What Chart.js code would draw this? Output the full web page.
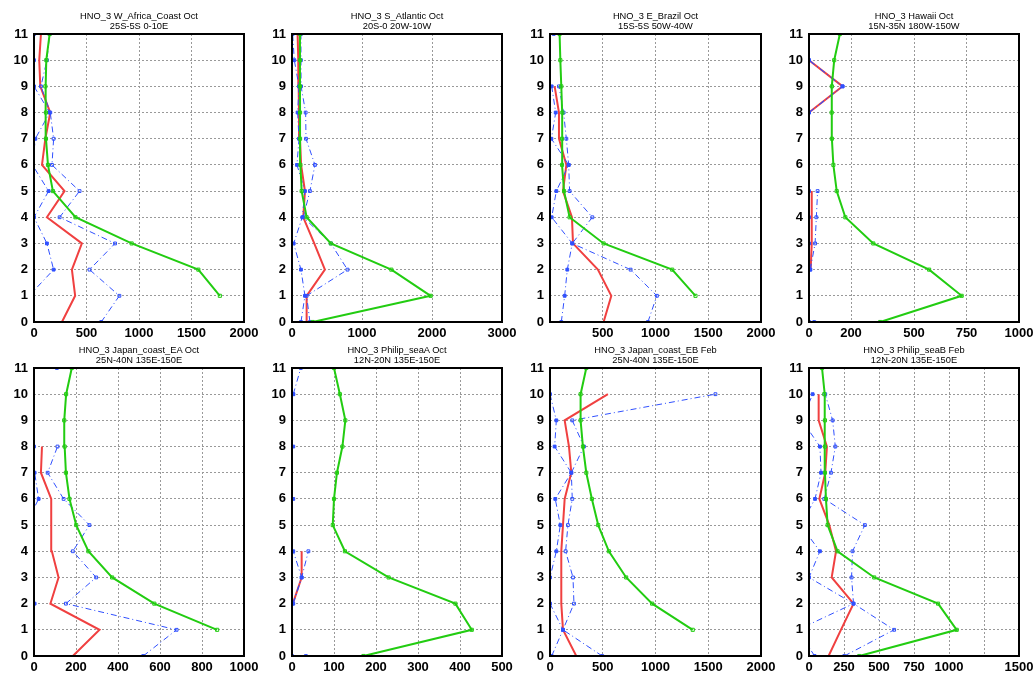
<!DOCTYPE html>
<html>
<head>
<meta charset="utf-8">
<script src="https://cdn.jsdelivr.net/npm/chart.js@4"></script>
<style>
  body { margin: 0; background: #fff; }
  #wrap { position: relative; width: 1034px; height: 674px; overflow: hidden; }
  canvas { position: absolute; }
  .ttl { position: absolute; width: 260px; font: 9.3px "Liberation Sans", Arial, sans-serif; line-height: 10px; text-align: center; color: #000; }
</style>
</head>
<body>
<div id="wrap"></div>
<script>
// vertical axis: levels 0..11
var levels = [0, 1, 2, 3, 4, 5, 6, 7, 8, 9, 10, 11];

var titles = ['HNO_3 W_Africa_Coast Oct', 'HNO_3 S_Atlantic Oct', 'HNO_3 E_Brazil Oct', 'HNO_3 Hawaii Oct',
              'HNO_3 Japan_coast_EA Oct', 'HNO_3 Philip_seaA Oct', 'HNO_3 Japan_coast_EB Feb', 'HNO_3 Philip_seaB Feb'];
var regions = ['25S-5S 0-10E', '20S-0 20W-10W', '15S-5S 50W-40W', '15N-35N 180W-150W',
               '25N-40N 135E-150E', '12N-20N 135E-150E', '25N-40N 135E-150E', '12N-20N 135E-150E'];

var xMax = [2000, 3000, 2000, 1000, 1000, 500, 2000, 1500];
var xTicks = [
  [0, 500, 1000, 1500, 2000],
  [0, 1000, 2000, 3000],
  [0, 500, 1000, 1500, 2000],
  [0, 200, 500, 750, 1000],
  [0, 200, 400, 600, 800, 1000],
  [0, 100, 200, 300, 400, 500],
  [0, 500, 1000, 1500, 2000],
  [0, 250, 500, 750, 1000, 1250, 1500]
];
var xLabels = [
  ['0', '500', '1000', '1500', '2000'],
  ['0', '1000', '2000', '3000'],
  ['', '500', '1000', '1500', '2000'],
  ['0', '200', '500', '750', '1000'],
  ['0', '200', '400', '600', '800', '1000'],
  ['0', '100', '200', '300', '400', '500'],
  ['0', '500', '1000', '1500', '2000'],
  ['0', '250', '500', '750', '1000', '', '1500']
];

// values per level 0..11 (null = no data)
var wafGreen = [null, 1770, 1565, 930, 395, 180, 133, 114, 114, 108, 117, 149];
var wafRed   = [266, 392, 361, 456, 123, 291, 76, 108, 155, 60, 50, 66];
var wafHi    = [640, 813, 529, 772, 244, 434, 171, 187, 155, 66, 123, 149];
var wafLo    = [-100, -47, 187, 123, 0, 139, -15, 13, 149, 0, 0, 0];

var satGreen = [295, 1980, 1419, 555, 209, 138, 120, 115, 115, 114, 114, 114];
var satRed   = [209, 209, 470, 318, 161, 185, 130, 114, 100, 95, 90, 80];
var satHi    = [256, 209, 793, 555, 161, 256, 328, 200, 195, 130, 128, 128];
var satLo    = [128, 185, 128, 24, 147, 185, 71, 100, 80, 100, 33, 9];

var ebrGreen = [null, 1379, 1158, 508, 186, 133, 114, 114, 117, 107, 98, 91];
var ebrRed   = [508, 581, 454, 218, 208, 123, 155, 85, 85, 44, null, null];
var ebrHi    = [928, 1013, 764, 211, 401, 186, 177, 155, 129, 85, null, 35];
var ebrLo    = [107, 139, 164, 211, 16, 60, 177, 13, 54, 16, null, null];

var hawGreen = [339, 727, 572, 306, 173, 132, 116, 109, 108, 109, 120, 147];
var hawRed   = [null, null, 8, 13, 13, 13, null, null, 0, 160, 0, null];
var hawHi    = [25, null, 6, 29, 35, 41, null, null, 0, 160, 0, null];
var hawLo    = [0, null, 6, 0, 0, 0, null, null, 0, 160, 0, null];

var jeaGreen = [null, 872, 573, 372, 259, 201, 169, 152, 146, 144, 153, 180];
var jeaRed   = [185, 312, 78, 117, 85, 82, 82, 33, 38, null, null, null];
var jeaHi    = [520, 679, 152, 296, 185, 264, 141, 65, 112, null, null, 109];
var jeaLo    = [-150, -120, 3, -60, -80, -40, 22, 3, 0, null, null, null];

var psaGreen = [170, 428, 389, 230, 126, 97, 100, 107, 120, 127, 114, 100];
var psaRed   = [null, null, 2, 23, 23, null, null, null, null, null, null, null];
var psaHi    = [33, null, 3, 23, 39, null, null, null, null, null, 3, 21];
var psaLo    = [0, null, 2, 23, 3, null, 3, null, 3, null, 3, null];

var jebGreen = [null, 1353, 968, 722, 558, 457, 397, 344, 312, 290, 290, 344];
var jebRed   = [249, 123, 107, 107, 107, 123, 139, 202, 180, 139, 549, null];
var jebHi    = [495, 123, 227, 218, 148, 170, 211, 202, 322, 211, 1568, null];
var jebLo    = [16, 123, 0, 0, 60, 98, 50, 202, 44, 60, 0, null];

var psbGreen = [359, 1055, 922, 466, 204, 133, 121, 114, 114, 114, 109, 93];
var psbRed   = [140, 228, 318, 162, 193, 145, 74, 116, 128, 69, 69, null];
var psbHi    = [252, 608, 318, 304, 311, 399, 109, 157, 188, 169, 116, null];
var psbLo    = [40, -80, 318, 0, 78, -60, 43, 86, 78, -50, 26, null];

var panelData = [
  [wafGreen, wafRed, wafHi, wafLo],
  [satGreen, satRed, satHi, satLo],
  [ebrGreen, ebrRed, ebrHi, ebrLo],
  [hawGreen, hawRed, hawHi, hawLo],
  [jeaGreen, jeaRed, jeaHi, jeaLo],
  [psaGreen, psaRed, psaHi, psaLo],
  [jebGreen, jebRed, jebHi, jebLo],
  [psbGreen, psbRed, psbHi, psbLo]
];

// plot area of each panel in the page
var plotLeft = [34, 292, 550, 809, 34, 292, 550, 809];
var plotWidth = [210, 210, 211, 210, 210, 210, 211, 210];
var plotTop = [34, 34, 34, 34, 368, 368, 368, 368];
var plotHeight = 288;

var GREEN = '#22cc11', RED = '#f04040', BLUE = '#3050ff';

var frame = {
  id: 'frame',
  afterDraw: function(chart) {
    var a = chart.chartArea, c = chart.ctx;
    c.save();
    c.strokeStyle = '#000';
    c.lineWidth = 2;
    c.strokeRect(a.left, a.top, a.right - a.left, a.bottom - a.top);
    c.restore();
  }
};

function toPoints(vals) {
  return vals.map(function(v, k) { return { x: v, y: levels[k] }; });
}

function makePanel(i) {
  var wrap = document.getElementById('wrap');
  var padTop = 10, padRight = 24, yW = 34, xH = 22;
  var cv = document.createElement('canvas');
  var w = yW + plotWidth[i] + padRight, h = padTop + plotHeight + xH;
  cv.width = w; cv.height = h;
  cv.style.left = (plotLeft[i] - yW) + 'px';
  cv.style.top = (plotTop[i] - padTop) + 'px';
  cv.style.width = w + 'px'; cv.style.height = h + 'px';
  wrap.appendChild(cv);

  var t = document.createElement('div');
  t.className = 'ttl';
  t.style.left = (plotLeft[i] + plotWidth[i] / 2 - 130) + 'px';
  t.style.top = (i < 4 ? 11 : 345) + 'px';
  t.innerHTML = titles[i] + '<br>' + regions[i];
  wrap.appendChild(t);

  var d = panelData[i];
  var tickFont = { family: '"Liberation Sans", Arial, sans-serif', size: 13, weight: 'bold' };

  // first dataset is drawn on top
  new Chart(cv, {
    type: 'scatter',
    data: {
      datasets: [
        { data: toPoints(d[0]), showLine: true, borderColor: GREEN, borderWidth: 2,
          pointStyle: 'rect', pointRadius: 2.2, pointBorderWidth: 1,
          pointBorderColor: GREEN, pointBackgroundColor: 'rgba(255,255,255,0)' },
        { data: toPoints(d[2]), showLine: true, borderColor: BLUE, borderWidth: 1, borderDash: [6, 3, 1, 3],
          pointStyle: 'rect', pointRadius: 2, pointBorderWidth: 1,
          pointBorderColor: BLUE, pointBackgroundColor: 'rgba(255,255,255,0)' },
        { data: toPoints(d[3]), showLine: true, borderColor: BLUE, borderWidth: 1, borderDash: [6, 3, 1, 3],
          pointStyle: 'rect', pointRadius: 2, pointBorderWidth: 1,
          pointBorderColor: BLUE, pointBackgroundColor: BLUE },
        { data: toPoints(d[1]), showLine: true, borderColor: RED, borderWidth: 2, pointRadius: 0 }
      ]
    },
    options: {
      responsive: false,
      animation: false,
      layout: { padding: { top: padTop, right: padRight, left: 0, bottom: 0 } },
      plugins: { legend: { display: false }, tooltip: { enabled: false } },
      scales: {
        x: {
          type: 'linear', min: 0, max: xMax[i],
          afterBuildTicks: function(axis) {
            axis.ticks = xTicks[i].map(function(v) { return { value: v }; });
          },
          afterFit: function(s) { s.height = xH; s.paddingLeft = 0; s.paddingRight = 0; },
          ticks: {
            autoSkip: false, maxRotation: 0, padding: 4, color: '#000', font: tickFont,
            callback: function(v, idx) { return xLabels[i][idx]; }
          },
          grid: { color: '#999', lineWidth: 1, drawTicks: false },
          border: { display: false, dash: [2, 2] }
        },
        y: {
          type: 'linear', min: 0, max: 11,
          afterFit: function(s) { s.width = yW; s.paddingTop = 0; s.paddingBottom = 0; },
          ticks: { stepSize: 1, autoSkip: false, padding: 6, color: '#000', font: tickFont },
          grid: { color: '#999', lineWidth: 1, drawTicks: false },
          border: { display: false, dash: [2, 2] }
        }
      }
    },
    plugins: [frame]
  });
}

for (var i = 0; i < 8; i++) {
  makePanel(i);
}
</script>
</body>
</html>
